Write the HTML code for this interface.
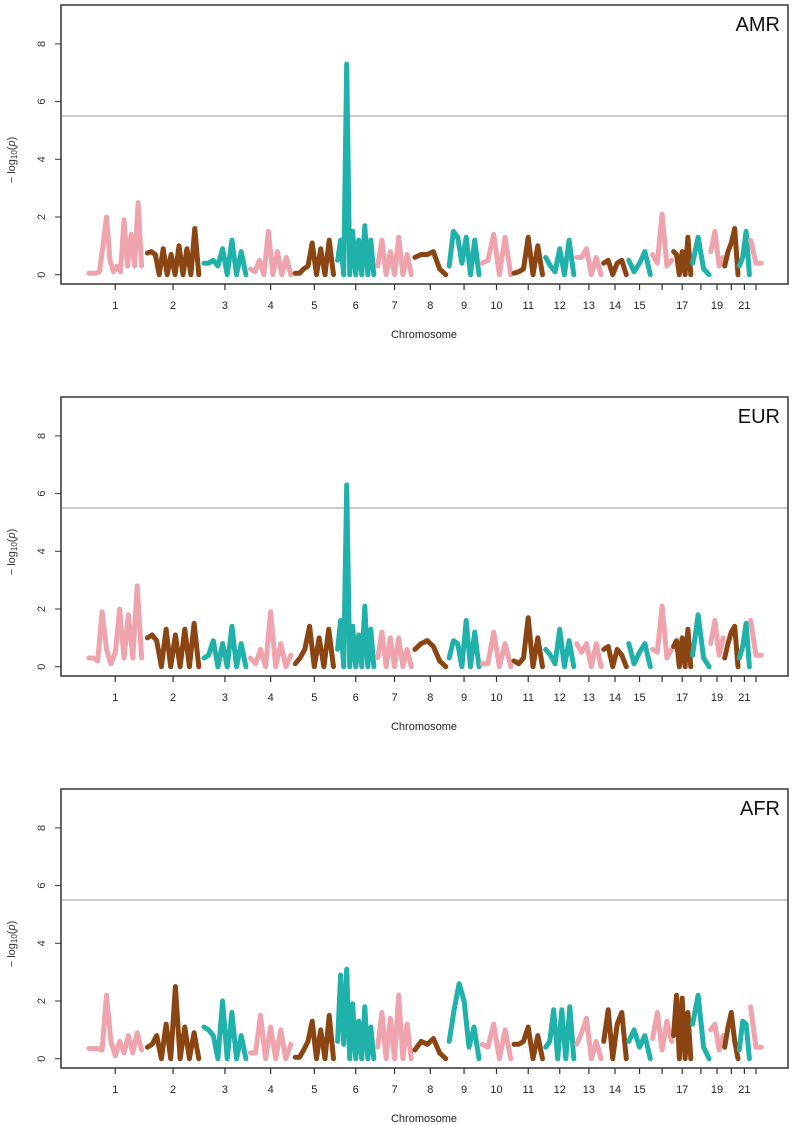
<!DOCTYPE html>
<html><head><meta charset="utf-8"><style>
html,body{margin:0;padding:0;background:#fff}
svg{display:block;font-family:"Liberation Sans",sans-serif}
</style></head><body>
<svg id="chart" width="793" height="1125" viewBox="0 0 793 1125"></svg>
<script>
const chromLengths=[249,243,198,191,181,171,159,146,141,135,135,133,115,107,102,90,81,78,59,63,48,51];
const chromLabels=["1","2","3","4","5","6","7","8","9","10","11","12","13","14","15","","17","","19","","21",""];
const yTicks=[0,2,4,6,8];
const threshold=5.5;
const panelNames=["AMR","EUR","AFR"];
const amrValues=[
[0.05,0.05,0.05,0.1,1,2,0.5,0.1,0.3,0.1,1.9,0.3,1.4,0.3,2.5,0.3],
[0.75,0.8,0.7,0,0.9,0,0.7,0,1.0,0,0.9,0,1.6,0],
[0.4,0.4,0.5,0.3,0.9,0,1.2,0,0.8,0],
[0.2,0.1,0.5,0,1.5,0,0.8,0,0.6,0],
[0.05,0.05,0.2,0.3,1.1,0,0.9,0,1.2,0],
[0.5,1.2,0,7.3,0,1.5,0,1.2,0,1.7,0,1.2,0],
[0.3,1.2,0,0.8,0,1.3,0,0.7,0],
[0.6,0.7,0.7,0.8,0.2,0],
[0.3,1.5,1.3,0.4,1.3,0,1.2,0],
[0.4,0.5,1.4,0,1.3,0],
[0.05,0.1,0.2,1.3,0,1.0,0],
[0.6,0.3,0.1,0.9,0,1.2,0],
[0.6,0.6,0.9,0,0.6,0],
[0.4,0.5,0,0.4,0.5,0],
[0.5,0.1,0.4,0.8,0],
[0.7,0.4,2.1,0.3,0.5],
[0.8,0.7,0,0.8,0,1.3,0],
[0.4,1.3,0.2,0],
[0.8,1.5,0.3,0.6],
[0.3,0.8,1.1,1.6,0],
[0.3,0.6,1.5,0],
[1.2,0.4,0.4]];
const eurValues=[
[0.3,0.3,0.2,1.9,0.6,0.1,0.5,2.0,0.3,1.8,0.3,2.8,0.3],
[1.0,1.1,0.9,0,1.3,0,1.1,0,1.3,0,1.5,0],
[0.3,0.4,0.9,0,0.8,0,1.4,0,0.8,0],
[0.3,0.1,0.6,0,1.9,0,0.8,0,0.4],
[0.1,0.3,0.6,1.4,0,1.0,0,1.3,0],
[0.6,1.6,0,6.3,0,1.4,0,1.1,0,2.1,0,1.3,0],
[0.3,1.2,0,1.0,0,1.0,0,0.6,0],
[0.6,0.8,0.9,0.7,0.2,0],
[0.3,0.9,0.8,0,1.6,0,1.2,0],
[0.1,0.1,1.2,0,0.8,0],
[0.2,0.1,0.3,1.7,0,1.0,0],
[0.6,0.4,0.1,1.3,0,0.9,0],
[0.8,0.5,0.8,0,0.8,0],
[0.6,0.7,0,0.6,0.4,0],
[0.8,0.1,0.5,0.8,0],
[0.6,0.5,2.1,0.3,0.6],
[0.7,0.9,0,1.0,0,1.3,0],
[0.4,1.8,0.3,0],
[0.8,1.6,0.4,1.0],
[0.3,0.8,1.2,1.4,0],
[0.3,0.7,1.5,0],
[1.6,0.4,0.4]];
const afrValues=[
[0.35,0.35,0.35,0.3,2.2,0.6,0.1,0.6,0.2,0.8,0.2,0.9,0.3],
[0.4,0.5,0.8,0,1.2,0,2.5,0,1.1,0,0.9,0],
[1.1,1.0,0.8,0,2.0,0,1.6,0,0.8,0],
[0.2,0.2,1.5,0,1.1,0,1.0,0,0.5],
[0.05,0.05,0.3,0.6,1.3,0,1.0,0,1.5,0],
[0.6,2.9,0.5,3.1,0,1.9,0,1.3,0,1.8,0,1.1,0],
[0.4,1.6,0,1.4,0,2.2,0,1.2,0],
[0.3,0.6,0.5,0.7,0.2,0],
[0.6,1.7,2.6,2.0,0.4,1.1,0],
[0.5,0.4,1.2,0,1.0,0],
[0.5,0.5,0.6,1.1,0,0.8,0],
[0.4,0.6,1.7,0,1.7,0,1.8,0],
[0.5,0.9,1.4,0,0.6,0],
[0.6,1.7,0,1.2,1.6,0],
[0.6,1.0,0.4,0.8,0],
[0.7,1.6,0.3,1.3,0.6],
[0.8,2.2,0,2.1,0,1.6,0],
[1.2,2.2,0.4,0],
[1.0,1.2,0.3,0.8],
[0.4,1.1,1.6,0.6,0],
[0.3,1.3,1.2,0],
[1.8,0.4,0.4]];
const allValues=[amrValues,eurValues,afrValues];
const colors=["#EFA3AD","#8B4513","#20B2AA"];
const NS="http://www.w3.org/2000/svg";
const svg=document.getElementById("chart");
function mk(tag,attrs,parent){const e=document.createElementNS(NS,tag);for(const k in attrs)e.setAttribute(k,attrs[k]);(parent||svg).appendChild(e);return e;}
const total=chromLengths.reduce((a,b)=>a+b,0);
const X0=86,X1=762;
function xScale(mb){return X0+mb*(X1-X0)/total;}
const starts=[];let cum=0;chromLengths.forEach(l=>{starts.push(cum);cum+=l;});
for(let p=0;p<3;p++){
  const oy=p*392;
  const yScale=v=>274.7+oy-v*28.85;
  const g=mk("g",{});
  
  
  const box=mk("rect",{x:61,y:5+oy,width:727,height:279,fill:"none",stroke:"#333","stroke-width":1.5},g);
  
  
  const th=mk("line",{x1:62,x2:787,y1:yScale(threshold),y2:yScale(threshold),stroke:"#aaa","stroke-width":1.3},g);
  
  
  yTicks.forEach(t=>{
    const y=yScale(t);
    mk("line",{x1:55,x2:61,y1:y,y2:y,stroke:"#333"},g);
    const tx=mk("text",{x:42,y:y,"font-size":11,"text-anchor":"middle",fill:"#333",transform:`rotate(-90 42 ${y})`,"dominant-baseline":"middle"},g);
    tx.textContent=t;
    
    
  });
  const yt=mk("text",{x:12,y:160+oy,"font-size":11,"text-anchor":"middle",fill:"#333",transform:`rotate(-90 12 ${160+oy})`,"dominant-baseline":"middle"},g);
  yt.innerHTML='− log<tspan font-size="8" dy="3">10</tspan><tspan dy="-3">(</tspan><tspan font-style="italic">p</tspan>)';
  
  
  chromLengths.forEach((l,i)=>{
    const cx=xScale(starts[i]+l/2);
    mk("line",{x1:cx,x2:cx,y1:284+oy,y2:290+oy,stroke:"#333","stroke-width":1.2},g);
    if(chromLabels[i]){const t=mk("text",{x:cx,y:309+oy,"font-size":11,"text-anchor":"middle",fill:"#222"},g);t.textContent=chromLabels[i];
      
      }
    const vals=allValues[p][i];
    const n=vals.length;
    const pts=vals.map((v,k)=>{const mb=starts[i]+l*(0.05+0.9*k/(n-1));return xScale(mb).toFixed(1)+","+yScale(v).toFixed(1);}).join(" ");
    const pl=mk("polyline",{points:pts,fill:"none",stroke:colors[i%3],"stroke-width":5,"stroke-linejoin":"round","stroke-linecap":"round"},g);
    
    
  });
  const xt=mk("text",{x:424,y:338+oy,"font-size":11,"text-anchor":"middle",fill:"#222"},g);
  xt.textContent="Chromosome";
  
  
  const pn=mk("text",{x:780,y:31+oy,"font-size":20,"text-anchor":"end",fill:"#111"},g);
  pn.textContent=panelNames[p];
  
  
}
</script>
</body></html>
